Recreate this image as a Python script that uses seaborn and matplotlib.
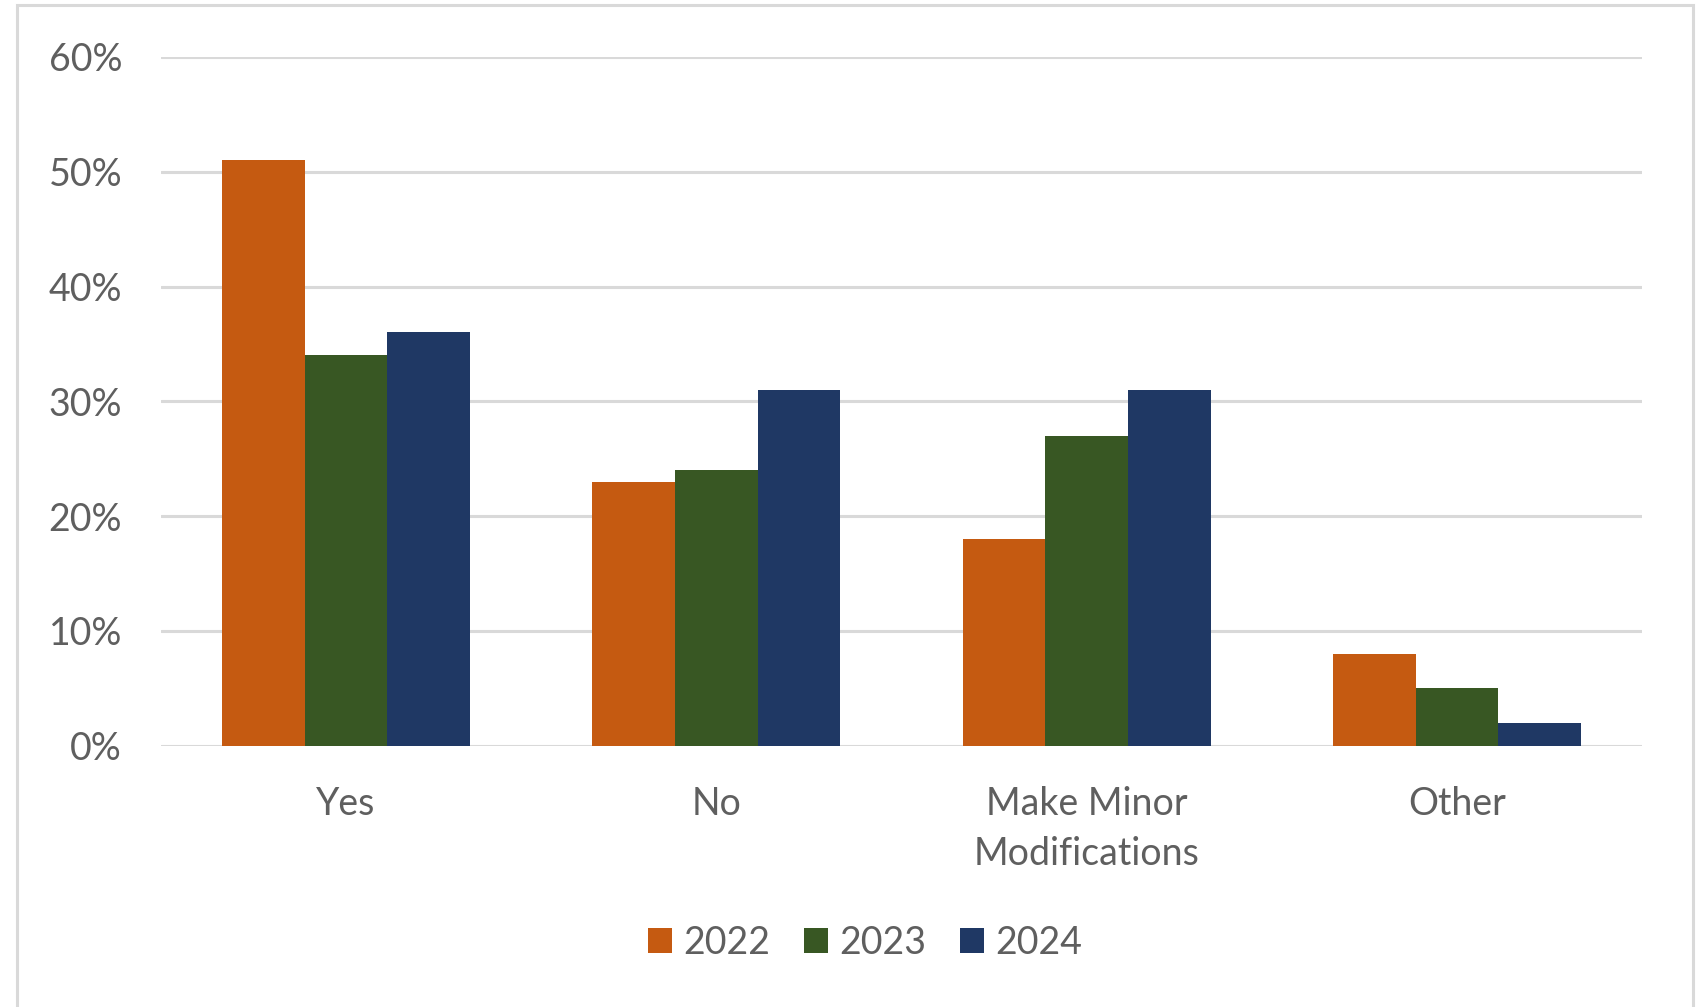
import matplotlib
matplotlib.use("Agg")
import matplotlib.pyplot as plt
import matplotlib.patches as mpatches
import seaborn as sns
import pandas as pd
from matplotlib.ticker import PercentFormatter

categories = ["Yes", "No", "Make Minor\nModifications", "Other"]
years = ["2022", "2023", "2024"]
share_2022 = [0.51, 0.23, 0.18, 0.08]
share_2023 = [0.34, 0.24, 0.27, 0.05]
share_2024 = [0.36, 0.31, 0.31, 0.02]
colors = ["#C55A11", "#385723", "#1F3864"]

rows = []
for year, vals in zip(years, [share_2022, share_2023, share_2024]):
    for cat, v in zip(categories, vals):
        rows.append({"category": cat, "year": year, "share": v})
df = pd.DataFrame(rows)

sns.set_theme(style="white")
plt.rcParams["font.family"] = ["Lato", "DejaVu Sans"]
text_color = "#5f5f5f"

fig = plt.figure(figsize=(17.03, 10.07), dpi=100)
ax = fig.add_axes([0.0945, 0.2595, 0.8698, 0.6839])

sns.barplot(data=df, x="category", y="share", hue="year", order=categories,
            hue_order=years, palette=colors, width=0.67, saturation=1,
            edgecolor="none", linewidth=0, ax=ax, legend=True, zorder=3)

ax.set_ylim(0, 0.6)
ax.set_xlim(-0.5, 3.5)
ax.set_yticks([0, 0.1, 0.2, 0.3, 0.4, 0.5, 0.6])
ax.yaxis.set_major_formatter(PercentFormatter(1.0, decimals=0))
ax.grid(axis="y", color="#d9d9d9", linewidth=2.2, zorder=0)
ax.set_axisbelow(True)
for s in ax.spines.values():
    s.set_visible(False)
ax.set_xlabel("")
ax.set_ylabel("")
ax.tick_params(axis="y", length=0, pad=28, labelsize=27, labelcolor=text_color)
ax.tick_params(axis="x", length=0, pad=29, labelsize=27, labelcolor=text_color)
for lbl in ax.get_xticklabels():
    lbl.set_linespacing(1.5)

handles, labels = ax.get_legend_handles_labels()
ax.legend_.remove()
fig.legend(handles, labels, loc="center", bbox_to_anchor=(0.508, 0.0635),
           ncol=3, frameon=False, fontsize=27, labelcolor=text_color,
           handlelength=0.64, handleheight=0.64, handletextpad=0.3,
           columnspacing=0.9)

# light frame around the chart area
fig.patches.append(mpatches.Rectangle((17 / 1703, -0.02), (1693 - 17) / 1703,
                                      1 - 5 / 1007 + 0.02,
                                      transform=fig.transFigure, fill=False,
                                      edgecolor="#d9d9d9", linewidth=2.2))

fig.savefig("out.png", dpi=100, facecolor="white")
